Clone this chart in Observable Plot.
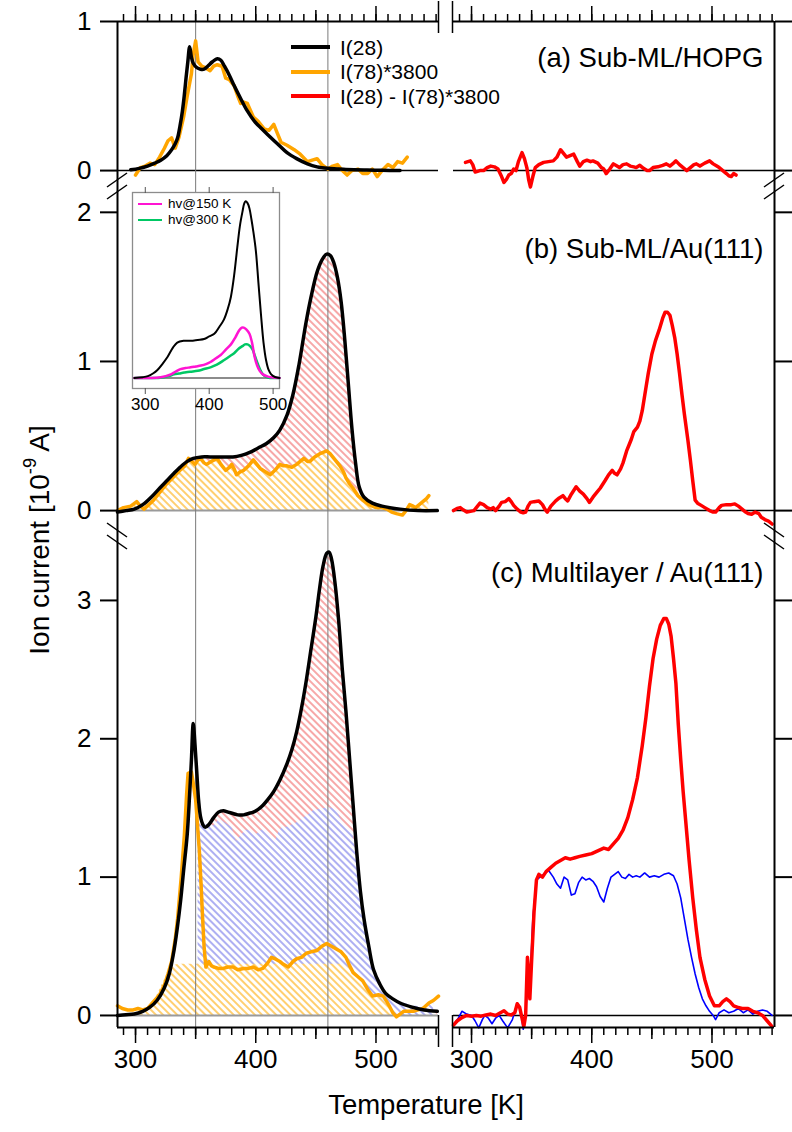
<!DOCTYPE html>
<html><head><meta charset="utf-8">
<script src="https://cdn.jsdelivr.net/npm/d3@7"></script>
<script src="https://cdn.jsdelivr.net/npm/@observablehq/plot@0.6"></script>
<style>
body{margin:0;background:#fff;}
#fig{position:relative;width:792px;height:1132px;overflow:hidden;font-family:"Liberation Sans",Arial,Helvetica,sans-serif;color:#000;background:#fff;}
#fig svg{position:absolute;overflow:visible;}
.lbl{position:absolute;white-space:nowrap;line-height:1;}
</style></head><body><div id="fig"></div>
<script>
// ---------------- data (T [K], ion current [1e-9 A]) ----------------
const tDomain = [285, 552];
const xMajor = [300, 400, 500];
const xMid = [350, 450];
const xMinor = d3.range(290, 551, 10);
const refLines = [350, 460];

// (a) Sub-ML/HOPG
const aI28 = [[296,0.005],[303,0.015],[310,0.03],[316,0.05],[321,0.07],[326,0.1],[330,0.14],[333,0.18],[335,0.22],[337,0.3],[339,0.4],[340.5,0.5],[342,0.62],[343.5,0.73],[345,0.83],[346.5,0.76],[348,0.72],[351,0.69],[354,0.68],[357,0.68],[360,0.7],[364,0.73],[368,0.75],[371,0.74],[374,0.7],[378,0.64],[382,0.57],[387,0.49],[393,0.4],[399,0.33],[405,0.28],[410,0.24],[418,0.18],[426,0.12],[434,0.08],[443,0.045],[451,0.025],[460,0.015],[475,0.008],[490,0.004],[505,0.002],[520,0.0]];
const aI78 = [[300,-0.03],[304,0.02],[308,0.03],[312,0.05],[316,0.04],[320,0.09],[324,0.15],[327,0.2],[330,0.22],[333,0.15],[336,0.22],[340,0.36],[343,0.5],[346.5,0.65],[348,0.78],[350,0.87],[352,0.73],[355,0.7],[358,0.69],[362,0.67],[365,0.7],[368,0.71],[372,0.7],[375,0.62],[378,0.61],[382,0.57],[385,0.5],[387.5,0.45],[390,0.46],[393,0.45],[398,0.36],[402,0.33],[407,0.28],[411,0.27],[415,0.31],[418,0.25],[421,0.19],[426,0.17],[432,0.14],[437,0.11],[443,0.06],[447,0.07],[451,0.08],[455,0.04],[460,0.01],[464,0.03],[468,0.04],[472,0.0],[476,-0.03],[480,0.0],[485,0.01],[489,-0.02],[493,-0.02],[497,0.01],[501,-0.04],[505,0.0],[510,0.04],[514,0.02],[518,0.06],[522,0.05],[526,0.09]];
const aDiff = [[295,0.055],[299,0.065],[301,0.04],[303,-0.01],[307,0.0],[310,0.0],[313,0.02],[316,0.03],[319,0.025],[322,0.01],[325,-0.04],[327,-0.08],[329,-0.06],[331,-0.03],[333,-0.02],[335,0.01],[337,0.0],[339,0.06],[342,0.12],[344,0.08],[346,0.02],[347.5,-0.06],[349,-0.11],[351,-0.04],[353,0.02],[356,0.04],[360,0.055],[364,0.06],[368,0.065],[371,0.09],[374,0.14],[377,0.11],[379,0.09],[382,0.1],[385,0.11],[388,0.06],[390,0.03],[393,0.06],[396,0.07],[399,0.06],[401,0.065],[405,0.05],[408,0.02],[410,0.01],[412,-0.02],[415,0.01],[418,0.045],[421,0.03],[423,0.02],[426,0.04],[429,0.045],[432,0.03],[435,0.025],[437,0.02],[440,0.035],[443,0.015],[446,0.0],[448,0.0],[451,0.02],[455,0.025],[459,0.035],[462,0.045],[465,0.03],[468,0.05],[470,0.065],[473,0.04],[476,0.02],[479,0.0],[482,0.02],[485,0.04],[487,0.045],[490,0.03],[494,0.05],[498,0.065],[501,0.045],[504,0.03],[506,0.02],[509,0.0],[512,-0.02],[514,-0.035],[516,-0.04],[518,-0.02],[520,-0.03]];

// (b) Sub-ML/Au(111)
const bI28 = [[285,-0.01],[292,0.0],[299,0.01],[306,0.04],[313,0.09],[320,0.15],[326,0.2],[332,0.25],[337,0.29],[343,0.33],[348,0.35],[355,0.36],[362,0.36],[370,0.36],[381,0.36],[388,0.37],[395,0.39],[402,0.42],[409,0.45],[415,0.49],[420,0.54],[426,0.64],[431,0.78],[436,0.98],[442,1.27],[447,1.47],[451,1.6],[455,1.68],[459,1.72],[462,1.71],[465,1.66],[468,1.56],[471,1.4],[474,1.15],[477,0.85],[480,0.55],[483,0.32],[486,0.16],[490,0.09],[497,0.05],[505,0.03],[520,0.01],[535,0.0],[551,0.0]];
const bI78 = [[285,0.0],[290,0.02],[296,0.03],[301,0.06],[304,0.03],[307,0.01],[311,0.04],[315,0.07],[320,0.12],[326,0.18],[331,0.22],[337,0.27],[341,0.3],[344,0.35],[347,0.33],[349.5,0.31],[352,0.34],[354,0.35],[357,0.32],[359,0.31],[363,0.33],[368,0.35],[371,0.31],[375,0.27],[378,0.29],[380,0.31],[382,0.28],[384,0.24],[387,0.26],[390,0.27],[394,0.3],[398,0.34],[401,0.31],[404,0.28],[408,0.26],[412,0.24],[416,0.27],[420,0.31],[423,0.3],[426,0.3],[430,0.29],[434,0.31],[437,0.33],[440,0.35],[443,0.33],[445,0.33],[449,0.36],[453,0.38],[456,0.39],[459,0.4],[462,0.38],[464,0.36],[467,0.33],[470,0.3],[473,0.26],[475,0.22],[478,0.18],[481,0.15],[485,0.1],[489,0.07],[494,0.04],[500,0.02],[505,0.02],[509,0.01],[513,-0.01],[517,-0.02],[522,-0.03],[525,0.0],[528,0.04],[531,0.03],[533,0.02],[536,0.04],[539,0.06],[542,0.08],[544,0.1]];
const bDiff = [[285,0.0],[288,0.015],[290.6,0.02],[293,0.005],[296,-0.01],[299,-0.005],[302,0.0],[305,0.03],[307,0.05],[310,0.04],[313,0.02],[316,0.01],[318,0.02],[320,0.0],[323,0.03],[325,0.055],[328,0.06],[331,0.08],[333,0.06],[335,0.035],[338,0.01],[341,-0.01],[343,-0.015],[345,-0.01],[347,0.03],[349,0.055],[352,0.06],[356,0.065],[359,0.04],[361,0.01],[363,-0.01],[366,0.03],[370,0.065],[373,0.085],[376,0.1],[378,0.08],[380,0.065],[383,0.11],[387,0.16],[390,0.13],[393,0.11],[396,0.08],[398,0.055],[401,0.09],[404,0.12],[407,0.15],[411,0.2],[414,0.24],[417,0.27],[419,0.25],[421,0.24],[424,0.28],[426,0.32],[429,0.4],[431,0.44],[433,0.48],[435,0.53],[438,0.56],[440,0.6],[442,0.67],[445,0.82],[447,0.92],[450,1.05],[453,1.14],[456,1.21],[459,1.29],[461,1.33],[463,1.33],[465,1.31],[467,1.24],[469,1.16],[471,1.05],[473,0.92],[475,0.78],[477,0.65],[480,0.47],[482,0.34],[484,0.2],[486,0.07],[488,0.05],[491,0.035],[494,0.02],[498,0.0],[501,-0.01],[503,-0.01],[506,0.02],[508,0.035],[512,0.04],[516,0.04],[519,0.045],[522,0.03],[525,0.01],[528,-0.01],[530,-0.02],[533,-0.025],[536,-0.01],[539,-0.02],[541,-0.045],[544,-0.06],[547,-0.07],[550,-0.09]];

// (c) Multilayer / Au(111)
const cI28 = [[285,0.0],[292,0.005],[299,0.01],[306,0.03],[312,0.06],[318,0.11],[324,0.2],[328,0.3],[332,0.47],[335,0.65],[337.5,0.83],[340,1.05],[343,1.31],[345,1.6],[346.5,1.85],[348,2.11],[349.5,1.95],[351,1.75],[352.5,1.55],[354,1.44],[356,1.38],[358,1.36],[361,1.38],[365,1.43],[369,1.47],[373,1.48],[377,1.47],[381,1.46],[385,1.45],[390,1.45],[394,1.46],[398,1.47],[402,1.49],[406,1.52],[410,1.56],[415,1.62],[420,1.7],[426,1.82],[430,1.92],[434,2.05],[438,2.22],[442,2.42],[446,2.65],[450,2.88],[453,3.08],[456,3.25],[459,3.34],[461,3.35],[463,3.3],[466,3.12],[469,2.85],[472,2.5],[475,2.2],[478,1.86],[481,1.52],[484,1.18],[487,0.9],[490,0.7],[494,0.5],[498,0.33],[503,0.23],[508,0.16],[514,0.12],[520,0.09],[530,0.06],[540,0.04],[551,0.03]];
const cI78 = [[285,0.07],[289,0.05],[293.5,0.04],[298,0.04],[302,0.05],[306,0.04],[310,0.05],[314,0.09],[317,0.12],[320,0.15],[324,0.22],[327,0.3],[330,0.39],[333,0.55],[335,0.7],[338,1.0],[340.6,1.3],[342.5,1.6],[343.7,1.75],[346.5,1.76],[348,1.68],[350,1.56],[352,1.32],[353,1.2],[354.5,0.95],[355.7,0.72],[357,0.5],[358.5,0.35],[361,0.39],[363,0.36],[365,0.35],[369,0.34],[373,0.34],[377,0.35],[381,0.35],[385,0.33],[390,0.34],[394,0.34],[398,0.35],[402,0.33],[406,0.34],[410,0.38],[413,0.42],[416,0.41],[420,0.39],[423,0.37],[427,0.35],[431,0.39],[434,0.41],[438,0.42],[442,0.45],[446,0.46],[451,0.47],[455,0.5],[459,0.52],[463,0.5],[467,0.48],[471,0.46],[475,0.42],[478,0.36],[481,0.31],[485,0.28],[489,0.25],[493,0.19],[497,0.14],[502,0.15],[506,0.14],[509,0.1],[511,0.07],[514,0.02],[517,-0.01],[520,0.01],[523,0.03],[527,0.03],[531,0.03],[535,0.04],[539,0.05],[544,0.09],[548,0.11],[552,0.14]];
const cBaseFill = [[300,0.0],[306,0.02],[312,0.06],[317,0.13],[322,0.22],[327,0.31],[331,0.36],[336,0.37],[360,0.37],[400,0.37],[440,0.37],[470,0.37],[475,0.36],[478,0.34],[481,0.3],[485,0.27],[489,0.24],[493,0.19],[497,0.14],[503,0.13],[508,0.09],[512,0.05],[516,0.0]];
const cBlueFill = [[352,1.38],[356,1.37],[360,1.38],[365,1.37],[370,1.42],[375,1.39],[380,1.36],[384,1.26],[388,1.3],[392,1.34],[397,1.33],[401,1.31],[405,1.34],[409,1.34],[413,1.28],[416,1.25],[419,1.32],[422,1.36],[426,1.36],[431,1.38],[436,1.4],[440,1.43],[444,1.45],[448,1.48],[454,1.49],[459,1.5],[463,1.5],[467,1.48],[471,1.42],[475,1.36],[478,1.33],[481,1.3],[483,1.2],[485,1.02],[487,0.88],[490,0.68],[494,0.46],[498,0.32],[503,0.23],[508,0.16],[514,0.12],[520,0.1],[530,0.07],[540,0.06],[548,0.1]];
const cDiff = [[285,-0.07],[288,-0.04],[292,-0.015],[296,0.0],[300,-0.005],[304,0.0],[308,-0.005],[312,0.004],[316,0.01],[320,0.0],[324,0.02],[327,0.034],[330,0.01],[333,0.004],[336,0.02],[338,0.085],[340,0.06],[342,-0.02],[343.5,-0.08],[345,0.0],[346.5,0.42],[347.5,0.3],[348.5,0.12],[350,0.4],[352,0.75],[354,0.98],[356,1.02],[359,1.0],[362,1.04],[366,1.07],[370,1.1],[374,1.12],[378,1.14],[382,1.13],[386,1.14],[390,1.15],[395,1.16],[400,1.17],[405,1.19],[410,1.21],[414,1.2],[418,1.24],[422,1.28],[426,1.34],[430,1.43],[434,1.56],[438,1.72],[442,1.95],[445,2.15],[448,2.38],[451,2.58],[454,2.72],[457,2.82],[460,2.87],[462,2.87],[464,2.83],[466,2.74],[468,2.58],[470,2.4],[472,2.1],[474,1.85],[476,1.62],[478,1.42],[481,1.12],[484,0.85],[487,0.62],[490,0.42],[494,0.26],[498,0.14],[502,0.07],[506,0.07],[509,0.1],[512,0.12],[515,0.1],[518,0.07],[521,0.06],[525,0.05],[530,0.05],[534,0.03],[538,0.02],[542,0.0],[546,-0.04],[550,-0.08]];
const cBlue = [[285,-0.07],[289,-0.02],[292,0.03],[296,0.01],[300,0.0],[303,-0.04],[306,-0.09],[309,-0.03],[311,0.0],[314,-0.02],[317,-0.06],[320,-0.02],[323,0.0],[326,-0.04],[330,-0.09],[334,-0.03],[338,0.09],[341,0.03],[343,-0.1],[345,0.0],[347,0.35],[349,0.3],[351,0.7],[354,0.98],[357,1.0],[360,1.02],[364,1.05],[368,1.0],[371,0.95],[374,0.92],[377,1.0],[380,0.98],[383,0.87],[386,0.88],[389,0.96],[392,1.0],[395,0.98],[398,0.99],[401,0.97],[404,0.93],[407,0.86],[410,0.82],[413,0.92],[416,1.0],[419,1.02],[422,1.04],[425,1.0],[428,0.99],[431,1.02],[434,1.0],[437,1.01],[440,1.0],[444,1.03],[448,1.0],[452,1.01],[456,1.0],[460,1.02],[464,1.03],[468,1.01],[471,0.95],[474,0.85],[477,0.7],[480,0.55],[483,0.42],[486,0.3],[489,0.2],[492,0.12],[495,0.07],[498,0.03],[501,0.0],[503,-0.03],[506,0.02],[510,0.04],[514,0.02],[518,0.03],[522,0.05],[526,0.02],[530,0.04],[534,0.01],[538,0.03],[542,0.04],[546,0.03],[550,0.0]];

// inset (normalised)
const insetDomain = [280, 510];
const insetTicks = [300, 400, 500];
const insetBlack = [[283,0.0],[296,0.004],[304,0.01],[312,0.025],[319,0.045],[327,0.08],[335,0.12],[343,0.17],[350,0.2],[360,0.21],[371,0.21],[382,0.215],[392,0.22],[400,0.235],[408,0.25],[416,0.29],[423,0.33],[429,0.39],[434,0.46],[439,0.58],[444,0.74],[448,0.86],[452,0.94],[455,0.99],[457,1.0],[460,0.99],[463,0.96],[466,0.9],[469,0.83],[473,0.72],[477,0.54],[481,0.36],[485,0.2],[489,0.1],[493,0.045],[497,0.02],[503,0.005],[510,0.0]];
const insetH150 = [[283,0.0],[310,0.0],[324,0.004],[332,0.01],[340,0.02],[347,0.035],[355,0.05],[363,0.056],[371,0.06],[379,0.065],[387,0.07],[395,0.078],[402,0.09],[410,0.11],[418,0.13],[426,0.16],[434,0.19],[441,0.23],[447,0.27],[451,0.285],[454,0.285],[458,0.275],[463,0.25],[467,0.2],[471,0.12],[475,0.07],[479,0.04],[484,0.02],[492,0.007],[500,0.002],[510,0.0]];
const insetH300 = [[283,0.0],[320,0.0],[329,0.004],[337,0.01],[345,0.02],[353,0.025],[361,0.03],[370,0.035],[382,0.04],[392,0.05],[402,0.06],[412,0.075],[423,0.1],[431,0.12],[439,0.14],[446,0.165],[452,0.18],[456,0.19],[460,0.19],[464,0.18],[468,0.16],[472,0.12],[476,0.08],[480,0.045],[484,0.02],[489,0.006],[495,0.0],[510,0.0]];

const legendMain = [
  {label: "I(28)", color: "#000000"},
  {label: "I(78)*3800", color: "#ffa500"},
  {label: "I(28) - I(78)*3800", color: "#ff0000"}
];
const legendInset = [
  {label: "hv@150 K", color: "#ff14d2"},
  {label: "hv@300 K", color: "#00c864"}
];
const panelTitles = {a: "(a) Sub-ML/HOPG", b: "(b) Sub-ML/Au(111)", c: "(c) Multilayer / Au(111)"};

// ---------------- layout ----------------
const FONT = '"Liberation Sans", Arial, Helvetica, sans-serif';
const SIDES = {
  L: {left: 0, ml: 117, w: 440, mr: 2},
  R: {left: 440, ml: 13, w: 352, mr: 18}
};
const ROWS = {
  a: {top: 0, mt: 21, h: 182, mb: 0, dom: [-0.08, 1.0], ticks: [0, 1], titleDy: 26},
  b: {top: 182, mt: 0, h: 346, mb: 0, dom: [-0.12, 2.2], ticks: [0, 1, 2], titleDy: 56},
  c: {top: 528, mt: 0, h: 604, mb: 105, dom: [-0.087, 3.52], ticks: [0, 1, 2, 3], titleDy: 34}
};
const TICK_FONT = 26;
const fig = document.getElementById("fig");
const X = d => d[0], Y = d => d[1];
const ORANGE = "#ffa500", RED = "#ff0000", BLUE = "#0000ff";
const intFmt = d => String(d);

function place(el, left, top) { el.style.left = left + "px"; el.style.top = top + "px"; fig.appendChild(el); return el; }

function addPatterns(svg, suffix) {
  const defs = d3.select(svg).insert("defs", ":first-child");
  for (const [name, col] of [["red", "#f7a8a8"], ["blue", "#aeb0f2"], ["orange", "#ffcf70"]]) {
    const p = defs.append("pattern").attr("id", `h-${name}-${suffix}`)
      .attr("patternUnits", "userSpaceOnUse").attr("width", 5).attr("height", 5)
      .attr("patternTransform", "rotate(-45)");
    p.append("rect").attr("width", 5).attr("height", 5).attr("fill", "white");
    p.append("rect").attr("width", 2).attr("height", 5).attr("fill", col);
  }
}

function xAxes(anchor, r) {
  const f = () => "";
  return [
    Plot.axisX({anchor, ticks: xMinor, tickSize: 8, tickFormat: f, label: null, strokeWidth: 1.5}),
    Plot.axisX({anchor, ticks: xMid, tickSize: 12, tickFormat: f, label: null, strokeWidth: 1.5}),
    Plot.axisX({anchor, ticks: xMajor, tickSize: 16, tickPadding: 6, tickFormat: anchor === "bottom" ? intFmt : f, label: null, strokeWidth: 1.5}),
    Plot.ruleY([anchor === "bottom" ? r.dom[0] : r.dom[1]], {stroke: "black", strokeWidth: 2})
  ];
}

function panel(sideKey, rowKey, dataMarks) {
  const s = SIDES[sideKey], r = ROWS[rowKey];
  const marks = [...dataMarks];
  if (sideKey === "L") {
    marks.push(Plot.ruleX([tDomain[0]], {stroke: "black", strokeWidth: 2}));
    marks.push(Plot.axisY({anchor: "left", ticks: r.ticks, tickSize: 17, tickPadding: 9, tickFormat: intFmt, label: null, strokeWidth: 2}));
  } else {
    marks.push(Plot.ruleX([tDomain[1]], {stroke: "black", strokeWidth: 2}));
    marks.push(Plot.axisY({anchor: "right", ticks: r.ticks, tickSize: 17, tickFormat: () => "", label: null, strokeWidth: 2}));
    marks.push(Plot.text([panelTitles[rowKey]], {frameAnchor: "top-right", dx: -11, dy: r.titleDy, fontSize: 27.5, textAnchor: "end"}));
  }
  if (rowKey === "a") marks.push(...xAxes("top", r));
  if (rowKey === "c") marks.push(...xAxes("bottom", r));
  const svg = Plot.plot({
    width: s.w, height: r.h,
    marginLeft: s.ml, marginRight: s.mr, marginTop: r.mt, marginBottom: r.mb,
    x: {domain: tDomain, axis: null},
    y: {domain: r.dom, axis: null},
    style: {background: "transparent", overflow: "visible", fontFamily: FONT, fontSize: TICK_FONT + "px", color: "black"},
    marks
  });
  addPatterns(svg, sideKey + rowKey);
  place(svg, s.left, r.top);
  return svg;
}

const vlines = Plot.ruleX(refLines, {stroke: "#7a7a7a", strokeWidth: 1});
const line = (data, stroke, w, curve = "linear") => Plot.line(data, {x: X, y: Y, stroke, strokeWidth: w, curve, strokeLinejoin: "round", strokeLinecap: "round"});
const pos = d => Math.max(0, d[1]);

// left (a)
panel("L", "a", [
  Plot.ruleY([0], {stroke: "black", strokeWidth: 1.5}),
  vlines,
  line(aI78, ORANGE, 3.5),
  line(aI28, "black", 3.5, "catmull-rom")
]);
// left (b)
panel("L", "b", [
  Plot.areaY(bI28.filter(d => d[0] >= 345), {x: X, y1: () => 0, y2: pos, fill: "url(#h-red-Lb)", curve: "catmull-rom"}),
  Plot.areaY(bI78, {x: X, y1: () => 0, y2: pos, fill: "url(#h-orange-Lb)"}),
  Plot.ruleY([0], {stroke: "#9a9a9a", strokeWidth: 2}),
  vlines,
  line(bI78, ORANGE, 3.5),
  line(bI28, "black", 3.5, "catmull-rom")
]);
// left (c)
panel("L", "c", [
  Plot.areaY(cI28.filter(d => d[0] >= 352), {x: X, y1: () => 0, y2: pos, fill: "url(#h-red-Lc)", curve: "catmull-rom"}),
  Plot.areaY(cBlueFill, {x: X, y1: () => 0, y2: pos, fill: "url(#h-blue-Lc)"}),
  Plot.areaY(cBaseFill, {x: X, y1: () => 0, y2: pos, fill: "url(#h-orange-Lc)"}),
  Plot.ruleY([0], {stroke: "#9a9a9a", strokeWidth: 2}),
  vlines,
  line(cI78, ORANGE, 3.5),
  line(cI28, "black", 3.5, "catmull-rom")
]);
// right panels
panel("R", "a", [
  Plot.ruleY([0], {stroke: "black", strokeWidth: 1.5}),
  line(aDiff, RED, 3.5)
]);
panel("R", "b", [
  Plot.ruleY([0], {stroke: "black", strokeWidth: 1.5}),
  line(bDiff, RED, 3.5)
]);
panel("R", "c", [
  Plot.ruleY([0], {stroke: "black", strokeWidth: 1.5}),
  line(cBlue, BLUE, 1.6),
  line(cDiff, RED, 3.5)
]);

// inset
const inset = Plot.plot({
  width: 147, height: 224, marginLeft: 0, marginRight: 0, marginTop: 0, marginBottom: 28,
  x: {domain: insetDomain, axis: null},
  y: {domain: [-0.06, 1.05], axis: null},
  style: {background: "transparent", overflow: "visible", fontFamily: FONT, fontSize: "17px", color: "black"},
  marks: [
    Plot.frame({fill: "white", stroke: "#8c8c8c", strokeWidth: 1.3}),
    Plot.ruleY([0], {stroke: "#8c8c8c", strokeWidth: 2}),
    line(insetH300, "#00c864", 2.5, "catmull-rom"),
    line(insetH150, "#ff14d2", 2.5, "catmull-rom"),
    line(insetBlack, "black", 2, "catmull-rom"),
    Plot.axisX({anchor: "bottom", ticks: insetTicks, tickSize: 6, tickPadding: 3, tickFormat: intFmt, label: null, stroke: "#555"}),
    Plot.axisX({anchor: "top", ticks: insetTicks, tickSize: 6, tickFormat: () => "", label: null, stroke: "#555"})
  ]
});
place(inset, 132, 192);

// legends (HTML)
function legend(items, left, top, step, lineW, thick, font, gap) {
  items.forEach((it, i) => {
    const row = document.createElement("div");
    row.className = "lbl";
    row.style.fontSize = font + "px";
    row.style.display = "flex";
    row.style.alignItems = "center";
    row.innerHTML = `<span style="display:inline-block;width:${lineW}px;height:${thick}px;background:${it.color};margin-right:${gap}px"></span><span>${it.label}</span>`;
    place(row, left, top + i * step - font * 0.5);
  });
}
legend(legendMain, 291, 47, 24.5, 39, 4, 21, 10);
legend(legendInset, 138, 204, 16, 24, 2.5, 13.5, 6);

// axis titles
const yt = document.createElement("div");
yt.className = "lbl";
yt.style.fontSize = "28px";
yt.style.transform = "translate(-50%,-50%) rotate(-90deg)";
yt.innerHTML = 'Ion current [10<span style="font-size:0.65em;position:relative;top:-0.7em">-9</span> A]';
place(yt, 40, 540);
const xt = document.createElement("div");
xt.className = "lbl";
xt.style.fontSize = "27.5px";
xt.style.transform = "translate(-50%,-50%)";
xt.textContent = "Temperature [K]";
place(xt, 426, 1105);

// axis-break marks
const ov = d3.create("svg").attr("width", 792).attr("height", 1132).style("pointer-events", "none");
ov.style("left", "0px").style("top", "0px");
function brk(x, y, dir) {
  for (const o of [-6, 6]) {
    ov.append("line").attr("x1", x - 10).attr("x2", x + 10)
      .attr("y1", y + o + 7 * dir).attr("y2", y + o - 7 * dir)
      .attr("stroke", "black").attr("stroke-width", 1.5);
  }
}
const xL = SIDES.L.ml, xR = SIDES.R.left + SIDES.R.w - SIDES.R.mr;
brk(xL, ROWS.b.top + 4, 1); brk(xR, ROWS.b.top + 4, 1);
brk(xL, ROWS.c.top + 8, -1); brk(xR, ROWS.c.top + 8, -1);
const xBreakL = SIDES.L.w - SIDES.L.mr, xBreakR = SIDES.R.left + SIDES.R.ml;
for (const xb of [xBreakL + 0.5, xBreakR - 0.5]) {
  ov.append("line").attr("x1", xb).attr("x2", xb).attr("y1", 1).attr("y2", 33).attr("stroke", "black").attr("stroke-width", 1.5);
  ov.append("line").attr("x1", xb).attr("x2", xb).attr("y1", 1015).attr("y2", 1047).attr("stroke", "black").attr("stroke-width", 1.5);
}
fig.appendChild(ov.node());
</script></body></html>
